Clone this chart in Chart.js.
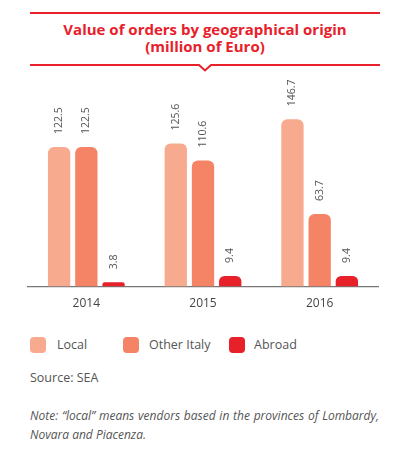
<!DOCTYPE html>
<html>
<head>
<meta charset="utf-8">
<script src="https://cdn.jsdelivr.net/npm/chart.js@4"></script>
<style>
  body { margin:0; background:#fff; font-family:"Open Sans", sans-serif; }
  #wrap { position:relative; width:398px; height:451px; overflow:hidden; }
  #head { position:absolute; left:0; top:0; }
  #title { position:absolute; left:0; width:410px; top:21px; text-align:center; color:#e8202a;
           font-weight:700; font-size:15px; line-height:16.5px; }
  #box { position:absolute; left:0; top:70px; width:398px; height:253px; }
  #legend { position:absolute; left:0; top:336px; width:398px; height:20px; }
  .lg { position:absolute; top:0; font-size:12.5px; color:#555; line-height:18px; }
  .lg i { position:absolute; left:0; top:1px; width:16px; height:16px; border-radius:4px; }
  #source { position:absolute; left:30px; top:369px; font-size:12.5px; color:#555; }
  #note { position:absolute; left:30px; top:406px; width:349px; font-size:12px; color:#555;
          font-style:italic; line-height:19px; text-align:justify; }
</style>
</head>
<body>
<div id="wrap">
  <svg id="head" width="398" height="80">
    <line x1="30" y1="13" x2="380" y2="13" stroke="#e8202a" stroke-width="2"/>
    <polyline points="30,65 199,65 205,70.5 211,65 380,65" fill="none" stroke="#e8202a" stroke-width="2"/>
  </svg>
  <div id="title">Value of orders by geographical origin<br>(million of Euro)</div>
  <div id="box"><canvas id="orders_Chart"></canvas></div>
  <div id="legend"></div>
  <div id="source">Source: SEA</div>
  <div id="note">Note: “local” means vendors based in the provinces of Lombardy, Novara and Piacenza.</div>
</div>
<script>
var years = ["2014", "2015", "2016"];
var seriesNames = ["Local", "Other Italy", "Abroad"];
var localData = [122.5, 125.6, 146.7];
var otherItalyData = [122.5, 110.6, 63.7];
var abroadData = [3.8, 9.4, 9.4];
var colors = ["#f8aa8e", "#f48465", "#e8202a"];

// labels drawn rotated above every bar
var barValues = {
    id: "barValues",
    afterDatasetsDraw: function(chart) {
        var ctx = chart.ctx;
        ctx.save();
        ctx.fillStyle = "#555";
        ctx.font = "10.5px 'Open Sans'";
        ctx.textAlign = "left";
        ctx.textBaseline = "middle";
        chart.data.datasets.forEach(function(ds, i) {
            chart.getDatasetMeta(i).data.forEach(function(bar, j) {
                ctx.save();
                ctx.translate(bar.x, bar.y - 13);
                ctx.rotate(-Math.PI / 2);
                ctx.fillText(ds.data[j].toFixed(1), 0, 0);
                ctx.restore();
            });
        });
        ctx.restore();
    }
};

var allSeries = [localData, otherItalyData, abroadData];
var datasets = [];
for (let i = 0; i < seriesNames.length; i++) {
    datasets.push({
        label: seriesNames[i],
        data: allSeries[i],
        backgroundColor: colors[i],
        borderRadius: { topLeft: 6, topRight: 6 },
        borderSkipped: "bottom",
        categoryPercentage: 0.7,
        barPercentage: 0.82
    });
}

var ordersChart = new Chart(document.getElementById("orders_Chart"), {
    type: "bar",
    data: { labels: years, datasets: datasets },
    plugins: [barValues],
    options: {
        responsive: true,
        maintainAspectRatio: false,
        animation: false,
        layout: { padding: { left: 28, right: 20, top: 0, bottom: 10 } },
        plugins: { legend: { display: false }, tooltip: { enabled: false } },
        scales: {
            x: {
                grid: { display: false },
                border: { display: true, color: "#777", width: 1.2 },
                ticks: { color: "#444", padding: 2, font: { family: "Open Sans", size: 12 } }
            },
            y: { display: false, min: 0, max: 190 }
        }
    }
});

var legendX = [[30, 57], [123, 149], [229, 254]];
var legend = document.getElementById("legend");
for (let i = 0; i < seriesNames.length; i++) {
    var item = document.createElement("div");
    item.className = "lg";
    item.style.left = legendX[i][0] + "px";
    item.style.width = "120px";
    item.innerHTML = '<i style="background:' + colors[i] + '"></i><span style="position:absolute;left:' +
        (legendX[i][1] - legendX[i][0]) + 'px;white-space:nowrap">' + seriesNames[i] + '</span>';
    legend.appendChild(item);
}
</script>
</body>
</html>
